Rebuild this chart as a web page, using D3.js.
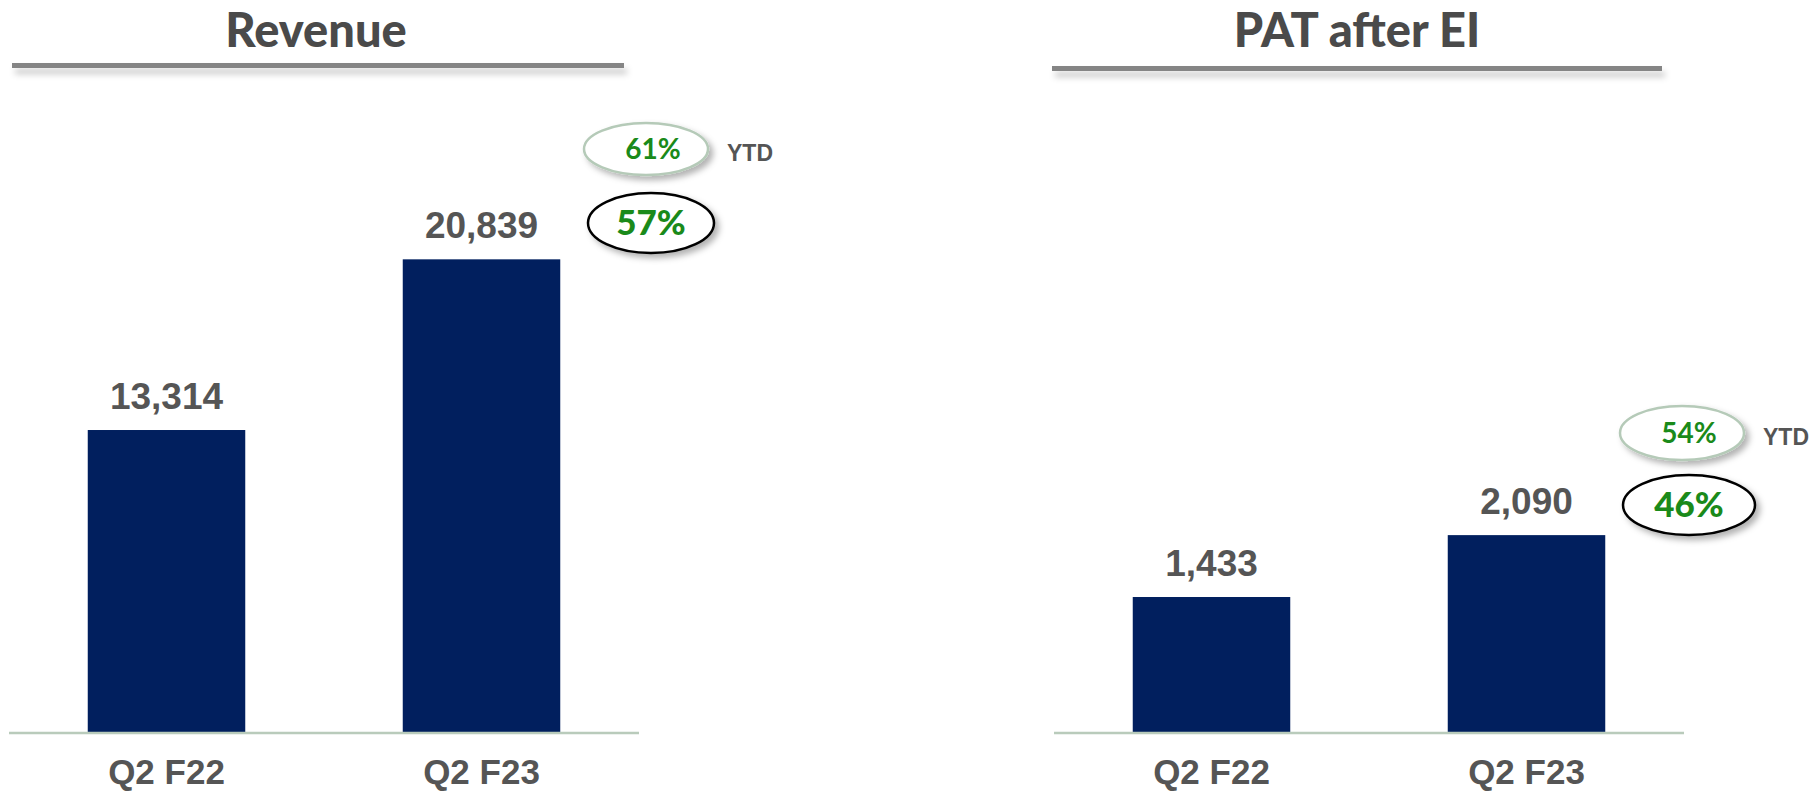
<!DOCTYPE html>
<html lang="en">
  <head>
    <meta charset="UTF-8" />
    <title>Revenue and PAT after EI</title>
    <script src="https://cdn.jsdelivr.net/npm/d3@7"></script>
    <style>
      body { margin: 0; background: #fff; }
    </style>
  </head>
  <body>
    <div id="wrapper"></div>
    <script>
      const categories = ['Q2 F22', 'Q2 F23']
      const revenue = [13314, 20839]
      const pat = [1433, 2090]
      const revenueGrowth = '57%'
      const revenueYtd = '61%'
      const patGrowth = '46%'
      const patYtd = '54%'

      const dms = { width: 1820, height: 793, baseline: 732 }

      const panels = [
        {
          title: 'Revenue', values: revenue, yMax: 22000, yTop: 233,
          left: 9, titleX: 316, rule: [12, 624, 63],
          growth: revenueGrowth, growthPos: [651, 223, 63, 30],
          ytd: revenueYtd, ytdPos: [646, 149, 62, 26]
        },
        {
          title: 'PAT after EI', values: pat, yMax: 5000, yTop: 261,
          left: 1054, titleX: 1357, rule: [1052, 1662, 66],
          growth: patGrowth, growthPos: [1689, 505, 66, 30],
          ytd: patYtd, ytdPos: [1682, 433, 62, 27]
        }
      ]

      const svg = d3.select('#wrapper').append('svg')
        .attr('width', dms.width)
        .attr('height', dms.height)

      const defs = svg.append('defs')
      defs.append('filter').attr('id', 'ruleShadow')
        .attr('x', '-5%').attr('y', '-100%').attr('width', '112%').attr('height', '500%')
        .append('feDropShadow')
        .attr('dx', 3).attr('dy', 6).attr('stdDeviation', 3)
        .attr('flood-color', '#000').attr('flood-opacity', 0.22)
      defs.append('filter').attr('id', 'badgeShadow')
        .attr('x', '-20%').attr('y', '-30%').attr('width', '150%').attr('height', '170%')
        .append('feDropShadow')
        .attr('dx', 4).attr('dy', 4).attr('stdDeviation', 3)
        .attr('flood-color', '#000').attr('flood-opacity', 0.3)

      panels.forEach(p => drawPanel(p))

      function drawPanel(p) {
        const g = svg.append('g')

        const xScale = d3.scaleBand()
          .domain(categories)
          .range([p.left, p.left + 630])
          .paddingInner(0.5)
          .paddingOuter(0.25)
        const yScale = d3.scaleLinear()
          .domain([0, p.yMax])
          .range([dms.baseline, p.yTop])

        // title and rule
        g.append('text')
          .attr('x', p.titleX).attr('y', 47)
          .attr('text-anchor', 'middle')
          .style('font-family', 'Lato, "Noto Sans", sans-serif')
          .style('font-weight', 900)
          .style('font-size', '47px')
          .attr('fill', '#4a4a4a')
          .text(p.title)
        g.append('rect')
          .attr('x', p.rule[0]).attr('width', p.rule[1] - p.rule[0])
          .attr('y', p.rule[2]).attr('height', 5)
          .attr('fill', '#858585')
          .attr('filter', 'url(#ruleShadow)')

        const data = categories.map((c, i) => ({ c, v: p.values[i] }))

        g.selectAll('rect.bar').data(data).join('rect')
          .attr('class', 'bar')
          .attr('x', d => xScale(d.c))
          .attr('width', xScale.bandwidth())
          .attr('y', d => yScale(d.v))
          .attr('height', d => yScale(0) - yScale(d.v))
          .attr('fill', '#011f5e')

        // baseline axis
        const xAxis = g.append('g')
          .attr('transform', `translate(0, ${dms.baseline + 1})`)
          .call(d3.axisBottom(xScale).tickSize(0))
        xAxis.select('.domain')
          .attr('d', `M${p.left},0H${p.left + 630}`)
          .attr('stroke', '#b9cbbb').attr('stroke-width', 2.5)
        xAxis.selectAll('.tick text')
          .attr('dy', 0).attr('y', 51)
          .style('font-family', '"Liberation Sans", Arial, sans-serif')
          .style('font-weight', 700)
          .style('font-size', '35px')
          .attr('fill', '#555')

        g.selectAll('text.val').data(data).join('text')
          .attr('class', 'val')
          .attr('x', d => xScale(d.c) + xScale.bandwidth() / 2)
          .attr('y', d => yScale(d.v) - 21)
          .attr('text-anchor', 'middle')
          .style('font-family', '"Liberation Sans", Arial, sans-serif')
          .style('font-weight', 700)
          .style('font-size', '37px')
          .attr('fill', '#555')
          .text(d => d3.format(',')(d.v))

        // YTD badge
        const [yx, yy, yrx, yry] = p.ytdPos
        g.append('ellipse')
          .attr('cx', yx).attr('cy', yy).attr('rx', yrx).attr('ry', yry)
          .attr('fill', '#fff').attr('stroke', '#b5cab8').attr('stroke-width', 2.5)
          .attr('filter', 'url(#badgeShadow)')
        g.append('text')
          .attr('x', yx + 7).attr('y', yy + 10)
          .attr('text-anchor', 'middle')
          .style('font-family', 'Lato, "Noto Sans", sans-serif')
          .style('font-weight', 700)
          .style('font-size', '28px')
          .attr('fill', '#1a8a1a')
          .text(p.ytd)
        g.append('text')
          .attr('x', yx + yrx + 19).attr('y', yy + 12)
          .style('font-family', '"Liberation Sans", Arial, sans-serif')
          .style('font-weight', 700)
          .style('font-size', '23px')
          .attr('fill', '#555')
          .text('YTD')

        // growth badge
        const [gx, gy, grx, gry] = p.growthPos
        g.append('ellipse')
          .attr('cx', gx).attr('cy', gy).attr('rx', grx).attr('ry', gry)
          .attr('fill', '#fff').attr('stroke', '#000').attr('stroke-width', 2.5)
          .attr('filter', 'url(#badgeShadow)')
        g.append('text')
          .attr('x', gx).attr('y', gy + 12)
          .attr('text-anchor', 'middle')
          .style('font-family', 'Lato, "Noto Sans", sans-serif')
          .style('font-weight', 900)
          .style('font-size', '35px')
          .attr('fill', '#1a8a1a')
          .text(p.growth)
      }
    </script>
  </body>
</html>
